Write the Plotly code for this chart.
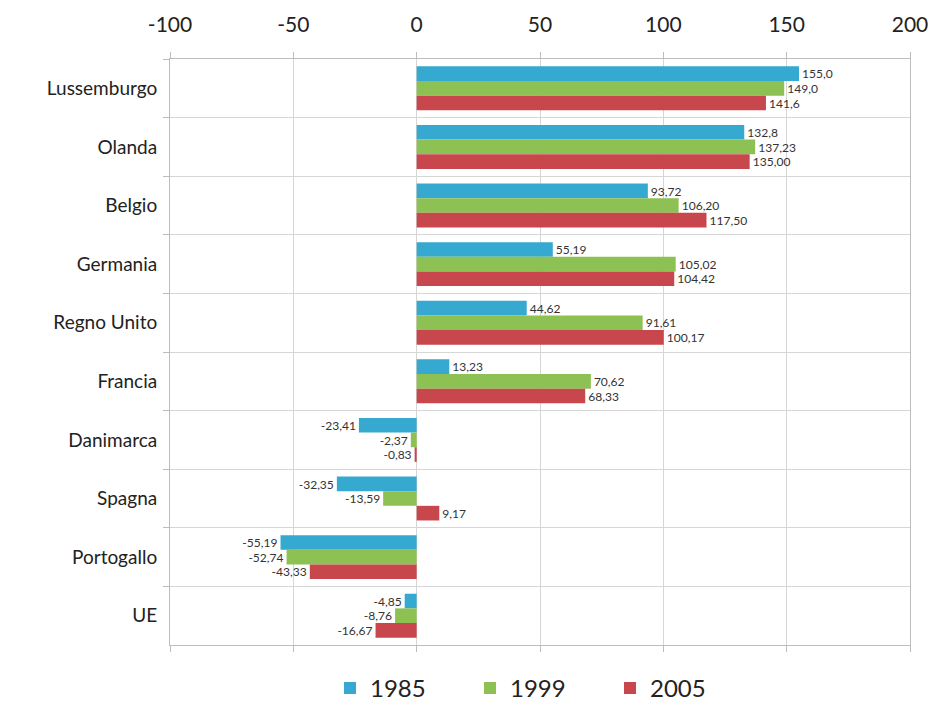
import plotly.graph_objects as go

categories = ["Lussemburgo", "Olanda", "Belgio", "Germania", "Regno Unito",
              "Francia", "Danimarca", "Spagna", "Portogallo", "UE"]
years = ["1985", "1999", "2005"]
v1985 = [155.0, 132.8, 93.72, 55.19, 44.62, 13.23, -23.41, -32.35, -55.19, -4.85]
v1999 = [149.0, 137.23, 106.20, 105.02, 91.61, 70.62, -2.37, -13.59, -52.74, -8.76]
v2005 = [141.6, 135.00, 117.50, 104.42, 100.17, 68.33, -0.83, 9.17, -43.33, -16.67]
t1985 = ["155,0", "132,8", "93,72", "55,19", "44,62", "13,23", "-23,41", "-32,35", "-55,19", "-4,85"]
t1999 = ["149,0", "137,23", "106,20", "105,02", "91,61", "70,62", "-2,37", "-13,59", "-52,74", "-8,76"]
t2005 = ["141,6", "135,00", "117,50", "104,42", "100,17", "68,33", "-0,83", "9,17", "-43,33", "-16,67"]
xticks = [-100, -50, 0, 50, 100, 150, 200]
xticklabels = ["-100", "-50", "0", "50", "100", "150", "200"]
colors = ["#35A9CF", "#8DC153", "#C8474C"]

FONT = "Lato, 'Open Sans', sans-serif"

fig = go.Figure()
for name, vals, txt, col in zip(years, [v1985, v1999, v2005], [t1985, t1999, t2005], colors):
    fig.add_trace(go.Bar(
        y=categories, x=vals, name=name, orientation="h",
        marker=dict(color=col, line=dict(width=0)),
        text=txt, textposition="outside", cliponaxis=False,
        textfont=dict(size=14, color="#333333", family=FONT),
        hoverinfo="skip",
    ))

fig.update_layout(
    width=944, height=701,
    margin=dict(l=170, r=34, t=59, b=56, autoexpand=False),
    paper_bgcolor="white", plot_bgcolor="white",
    barmode="group", bargap=0.25, bargroupgap=0,
    font=dict(family=FONT, color="#222222"),
    legend=dict(orientation="h", x=0.5, xanchor="center", y=-0.074, yanchor="middle",
                font=dict(size=24, color="#222222"), itemwidth=30,
                entrywidth=95, entrywidthmode="pixels",
                traceorder="normal", tracegroupgap=0,
                borderwidth=0, bgcolor="rgba(0,0,0,0)"),
    showlegend=True,
)
fig.update_xaxes(
    side="top", range=[-100, 200], tickvals=xticks, ticktext=xticklabels,
    showgrid=True, gridcolor="#D6D6D6", gridwidth=1,
    zeroline=True, zerolinecolor="#D6D6D6", zerolinewidth=1,
    showline=True, linecolor="#BDBDBD", linewidth=1, mirror="ticks",
    ticks="outside", ticklen=6, tickcolor="#BDBDBD",
    tickfont=dict(size=21, color="#222222", family=FONT),
    ticklabelstandoff=12,
)
fig.update_yaxes(
    autorange="reversed", type="category",
    tickson="boundaries", showgrid=True, gridcolor="#D6D6D6", gridwidth=1,
    showline=True, linecolor="#BDBDBD", linewidth=1, mirror=True,
    ticks="outside", ticklen=6, tickcolor="#BDBDBD",
    tickfont=dict(size=19, color="#222222", family=FONT),
    ticklabelstandoff=8,
)

fig.write_html("out.html")
